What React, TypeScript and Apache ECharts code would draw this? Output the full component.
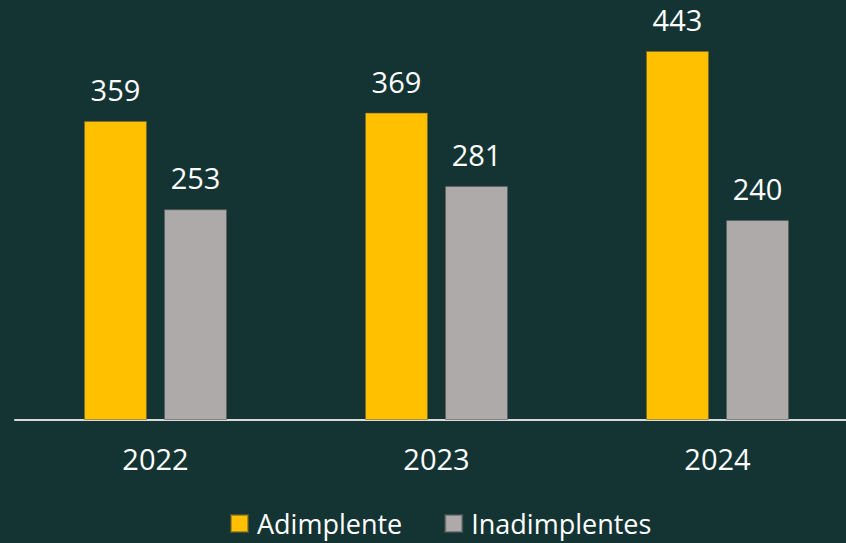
import React, { useEffect, useRef } from "react";
import * as echarts from "echarts";

const categories = ["2022", "2023", "2024"];
const adimplente = [359, 369, 443];
const inadimplentes = [253, 281, 240];
const seriesNames = ["Adimplente", "Inadimplentes"];

export default function App() {
  const ref = useRef<HTMLDivElement>(null);
  useEffect(() => {
    if (!ref.current) return;
    const chart = echarts.init(ref.current, undefined, { renderer: "svg" });
    const font = "'Open Sans', sans-serif";
    chart.setOption({
      animation: false,
      backgroundColor: "#143434",
      textStyle: { fontFamily: font },
      grid: { left: 15, top: 3.5, right: 0, bottom: 123, containLabel: false },
      legend: {
        left: 230,
        top: 510,
        padding: 0,
        itemWidth: 17,
        itemHeight: 17,
        itemGap: 42,
        icon: "rect",
        textStyle: { color: "#ffffff", fontSize: 27, fontFamily: font, padding: [0, 0, 0, 4] },
        data: seriesNames,
      },
      xAxis: {
        type: "category",
        data: categories,
        axisLine: { show: true, lineStyle: { color: "#D9D9D9", width: 2 } },
        axisTick: { show: false },
        axisLabel: { color: "#ffffff", fontSize: 29, fontFamily: font, margin: 24 },
      },
      yAxis: {
        type: "value",
        min: 0,
        max: 500,
        show: false,
        splitLine: { show: false },
      },
      series: [
        {
          name: seriesNames[0],
          type: "bar",
          data: adimplente,
          barWidth: 63,
          barGap: "27%",
          itemStyle: { color: "#FFC000", borderColor: "rgba(120,100,40,0.6)", borderWidth: 1 },
          label: { show: true, position: "top", distance: 17, color: "#ffffff", fontSize: 29, fontFamily: font },
        },
        {
          name: seriesNames[1],
          type: "bar",
          data: inadimplentes,
          barWidth: 63,
          barGap: "27%",
          itemStyle: { color: "#AEAAAA", borderColor: "rgba(90,90,90,0.6)", borderWidth: 1 },
          label: { show: true, position: "top", distance: 17, color: "#ffffff", fontSize: 29, fontFamily: font },
        },
      ],
    });
    return () => chart.dispose();
  }, []);
  return (
    <div
      style={{ position: "fixed", left: 0, top: 0, width: 846, height: 543, overflow: "hidden", background: "#143434" }}
    >
      <div ref={ref} style={{ width: 858, height: 543 }} />
    </div>
  );
}
